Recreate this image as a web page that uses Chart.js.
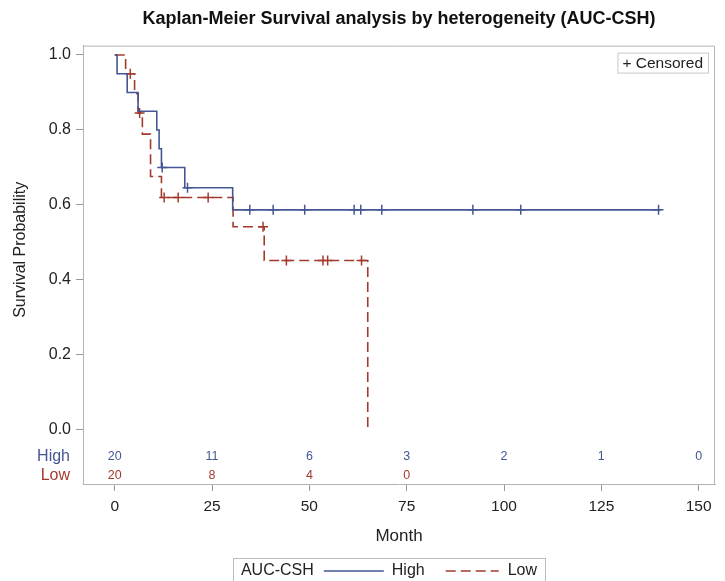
<!DOCTYPE html>
<html lang="en">
<head>
<meta charset="UTF-8">
<title>Kaplan-Meier Survival analysis by heterogeneity (AUC-CSH)</title>
<script src="https://cdn.jsdelivr.net/npm/chart.js"></script>
<style>
  html, body { margin: 0; padding: 0; background: #fff; }
</style>
</head>
<body>
<canvas id="km" width="725" height="581"></canvas>
<script>
// step curves (months, survival after each event)
const highTime = [0, 0.6, 3.2, 6.0, 10.8, 11.4, 12.0, 18.0, 30.3, 140.3];
const highSurv = [1.0, 0.95, 0.90, 0.85, 0.80, 0.75, 0.70, 0.646, 0.587, 0.587];
const lowTime = [0, 2.8, 5.1, 6.0, 7.1, 9.2, 12.0, 30.4, 38.4, 65.0];
const lowSurv = [1.0, 0.95, 0.897, 0.845, 0.789, 0.676, 0.620, 0.542, 0.452, 0.0];

// censored times
const highCensor = [12.2, 18.7, 34.7, 40.7, 48.8, 61.5, 63.2, 68.6, 92.0, 104.3, 139.7];
const lowCensor = [4.0, 6.4, 12.7, 16.3, 24.0, 38.1, 44.1, 53.5, 54.7, 63.4];

// numbers at risk
const riskTimes = [0, 25, 50, 75, 100, 125, 150];
const highRisk = [20, 11, 6, 3, 2, 1, 0];
const lowRisk = [20, 8, 4, 0];

const xTicks = [0, 25, 50, 75, 100, 125, 150];
const yTicks = [0, 0.2, 0.4, 0.6, 0.8, 1.0];

const BLUE = '#445694';
const RED = '#A23A2E';
const TEXT = '#222';
const FRAME = '#b4b4b4';
const FONT = "'Liberation Sans', Arial, sans-serif";

Chart.defaults.font.family = FONT;
Chart.defaults.color = TEXT;

function survAt(times, surv, t) {
    let s = surv[0];
    for (let i = 0; i < times.length; i++) {
        if (times[i] <= t) s = surv[i];
    }
    return s;
}

function legendLine(ctx, x1, x2, yy, color, dash) {
    ctx.save();
    ctx.strokeStyle = color;
    ctx.lineWidth = 1.5;
    ctx.setLineDash(dash);
    ctx.beginPath();
    ctx.moveTo(x1, yy);
    ctx.lineTo(x2, yy);
    ctx.stroke();
    ctx.restore();
}

const extras = {
    id: 'extras',
    afterDraw(chart) {
        const { ctx, chartArea: a, scales: { x } } = chart;
        ctx.save();

        // frame top and right
        ctx.strokeStyle = FRAME;
        ctx.lineWidth = 1;
        ctx.beginPath();
        ctx.moveTo(a.left, a.top + 0.5);
        ctx.lineTo(a.right - 0.5, a.top + 0.5);
        ctx.lineTo(a.right - 0.5, a.bottom);
        ctx.stroke();

        // numbers at risk
        const rowHigh = a.bottom - 27;
        const rowLow = a.bottom - 8;
        ctx.font = '12.5px ' + FONT;
        ctx.textAlign = 'center';
        ctx.textBaseline = 'middle';
        ctx.fillStyle = BLUE;
        highRisk.forEach((n, i) => ctx.fillText(String(n), x.getPixelForValue(riskTimes[i]), rowHigh));
        ctx.fillStyle = RED;
        lowRisk.forEach((n, i) => ctx.fillText(String(n), x.getPixelForValue(riskTimes[i]), rowLow));

        ctx.font = '16px ' + FONT;
        ctx.textAlign = 'right';
        ctx.fillStyle = BLUE;
        ctx.fillText('High', a.left - 13, rowHigh);
        ctx.fillStyle = RED;
        ctx.fillText('Low', a.left - 13, rowLow);

        // y axis title
        ctx.save();
        ctx.translate(21, (a.top + a.bottom) / 2 - 15);
        ctx.rotate(-Math.PI / 2);
        ctx.textAlign = 'center';
        ctx.fillStyle = TEXT;
        ctx.font = '16px ' + FONT;
        ctx.fillText('Survival Probability', 0, 0);
        ctx.restore();

        // censored note
        ctx.font = '15.5px ' + FONT;
        const note = '+ Censored';
        const nw = ctx.measureText(note).width + 10;
        const nx = a.right - 7 - nw;
        const ny = a.top + 7;
        ctx.strokeStyle = '#c8c8c8';
        ctx.strokeRect(nx + 0.5, ny + 0.5, nw, 20);
        ctx.fillStyle = TEXT;
        ctx.textAlign = 'left';
        ctx.fillText(note, nx + 5, ny + 11);

        // bottom legend
        ctx.font = '16px ' + FONT;
        const wTitle = ctx.measureText('AUC-CSH').width;
        const wHigh = ctx.measureText('High').width;
        const wLow = ctx.measureText('Low').width;
        const total = 8 + wTitle + 10 + 60 + 8 + wHigh + 21 + 53 + 9 + wLow + 8;
        let lx = (a.left + a.right) / 2 - 10 - total / 2;
        const top = 558;
        const ly = 571;
        ctx.strokeStyle = '#bdbdbd';
        ctx.strokeRect(Math.round(lx) + 0.5, top + 0.5, Math.round(total), 40);
        ctx.fillStyle = TEXT;
        lx += 8;
        ctx.fillText('AUC-CSH', lx, ly);
        lx += wTitle + 10;
        legendLine(ctx, lx, lx + 60, ly, BLUE, []);
        lx += 68;
        ctx.fillText('High', lx, ly);
        lx += wHigh + 21;
        legendLine(ctx, lx, lx + 53, ly, RED, [10, 5]);
        lx += 62;
        ctx.fillText('Low', lx, ly);

        ctx.restore();
    }
};

new Chart(document.getElementById('km'), {
    type: 'line',
    data: {
        datasets: [
            {
                label: 'High',
                data: highTime.map((t, i) => ({ x: t, y: highSurv[i] })),
                stepped: true,
                borderColor: BLUE,
                borderWidth: 1.6,
                pointRadius: 0,
                fill: false
            },
            {
                label: 'Low',
                data: lowTime.map((t, i) => ({ x: t, y: lowSurv[i] })),
                stepped: true,
                borderColor: RED,
                borderWidth: 1.6,
                borderDash: [10, 5],
                pointRadius: 0,
                fill: false
            },
            {
                label: 'High censored',
                data: highCensor.map(t => ({ x: t, y: survAt(highTime, highSurv, t) })),
                showLine: false,
                pointStyle: 'cross',
                pointRadius: 5,
                pointBorderColor: BLUE,
                pointBorderWidth: 1.5
            },
            {
                label: 'Low censored',
                data: lowCensor.map(t => ({ x: t, y: survAt(lowTime, lowSurv, t) })),
                showLine: false,
                pointStyle: 'cross',
                pointRadius: 5,
                pointBorderColor: RED,
                pointBorderWidth: 1.5
            }
        ]
    },
    options: {
        responsive: false,
        animation: false,
        layout: { padding: { left: 0, right: 10, top: 0, bottom: 27 } },
        plugins: {
            legend: { display: false },
            tooltip: { enabled: false },
            title: {
                display: true,
                text: 'Kaplan-Meier Survival analysis by heterogeneity (AUC-CSH)',
                font: { size: 18, weight: 'bold' },
                color: '#111',
                fullSize: false,
                padding: { top: 8, bottom: 16 }
            }
        },
        scales: {
            x: {
                type: 'linear',
                min: -8.15,
                max: 154.2,
                afterBuildTicks: s => { s.ticks = xTicks.map(v => ({ value: v })); },
                afterFit: s => { s.height = 70; },
                ticks: { font: { size: 15.5 }, color: TEXT, padding: 6, maxRotation: 0, autoSkip: false },
                grid: { drawOnChartArea: false, tickLength: 7, color: '#999' },
                border: { color: FRAME },
                title: { display: true, text: 'Month', font: { size: 17 }, color: TEXT, padding: { top: 0, bottom: 7 } }
            },
            y: {
                type: 'linear',
                min: -0.144,
                max: 1.025,
                afterBuildTicks: s => { s.ticks = yTicks.map(v => ({ value: v })); },
                afterFit: s => { s.width = 83; },
                ticks: { font: { size: 16 }, color: TEXT, padding: 5, callback: v => v.toFixed(1) },
                grid: { drawOnChartArea: false, tickLength: 7, color: '#999' },
                border: { color: FRAME }
            }
        }
    },
    plugins: [extras]
});
</script>
</body>
</html>
